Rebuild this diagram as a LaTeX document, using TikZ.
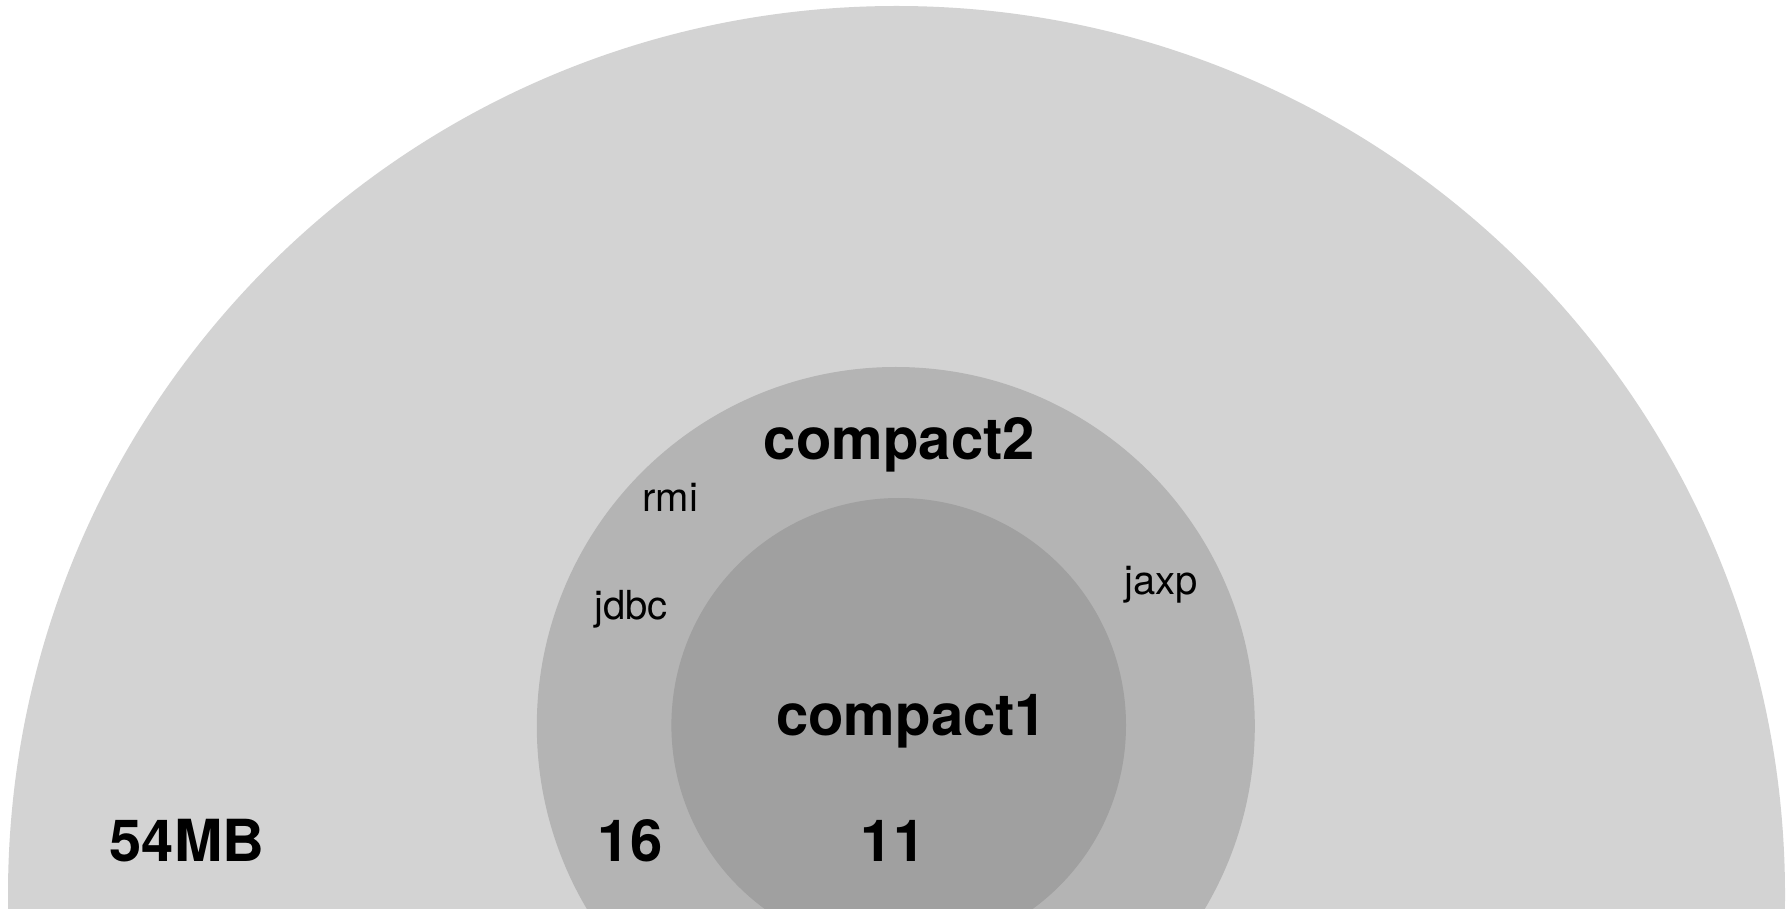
\documentclass[tikz,border=0pt]{standalone}
\usepackage{fontspec}
\setmainfont{TeX Gyre Heros}
\definecolor{outerc}{HTML}{D3D3D3}
\definecolor{midc}{HTML}{B4B4B4}
\definecolor{innc}{HTML}{A0A0A0}
\begin{document}
\begin{tikzpicture}[x=1pt,y=1pt,
  bigtxt/.style={font=\fontsize{58}{60}\selectfont\bfseries, anchor=base, inner sep=0pt},
  smalltxt/.style={font=\fontsize{40}{44}\selectfont, anchor=base, inner sep=0pt}]
\useasboundingbox (0,0) rectangle (1787,908);
\clip (0,0) rectangle (1787,908);
\fill[outerc] (896.5,13.5) circle[radius=888.5];
\fill[midc] (895.8,182) circle[radius=359];
\fill[innc] (898.7,182.7) circle[radius=227.3];
\node[bigtxt] (c2) at (899.5,448) {compact2};
\node[smalltxt] (rmi) at (670.3,396.3) {rmi};
\node[smalltxt] (jdbc) at (631,288) {jdbc};
\node[smalltxt] (jaxp) at (1161,313) {jaxp};
\node[bigtxt] (c1) at (911.7,173) {compact1};
\node[bigtxt] (mb) at (187,46.3) {54MB};
\node[bigtxt] (n16) at (630,47) {16};
\node[bigtxt] (n11) at (893,47) {11};
\end{tikzpicture}
\end{document}
